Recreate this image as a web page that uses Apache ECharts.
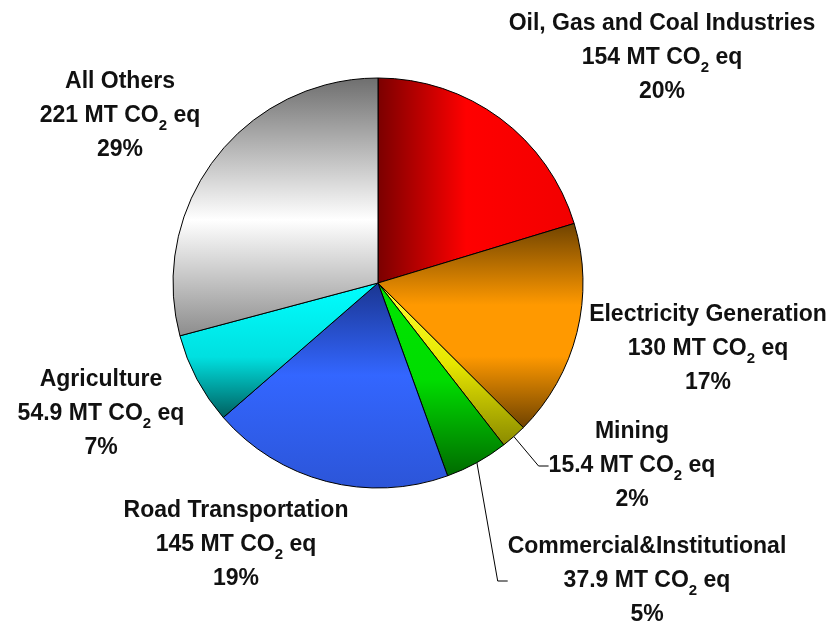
<!DOCTYPE html>
<html lang="en">
<head>
<meta charset="UTF-8">
<title>emissions by sector</title>
<script src="https://cdn.jsdelivr.net/npm/echarts@6/dist/echarts.min.js"></script>
<style>html,body{margin:0;padding:0;background:#fff;}</style>
</head>
<body>
<div id="main" style="width:836px;height:624px;"></div>
<script>
// sectors clockwise from 12 o'clock
var sectors = ['Oil, Gas and Coal Industries', 'Electricity Generation', 'Mining',
    'Commercial&Institutional', 'Road Transportation', 'Agriculture', 'All Others'];
var emissions = [154, 130, 15.4, 37.9, 145, 54.9, 221];   // MT CO2 eq
var withLeader = ['Mining', 'Commercial&Institutional'];

// label anchor (centre of text block), px
var labelPos = [[662, 58], [708, 349], [632, 466], [647, 581], [236, 545], [101, 414], [120, 116]];

// gradient fills per slice: [x, y, x2, y2, stops]
function grad(x, y, x2, y2, stops) {
    return {
        type: 'linear', x: x, y: y, x2: x2, y2: y2,
        colorStops: stops.map(function (s) { return { offset: s[0], color: s[1] }; })
    };
}
var fills = [
    grad(0, 0, 1, 0, [[0, '#7a0000'], [0.45, '#ff0000'], [1, '#f20000']]),
    grad(0, 0, 0, 1, [[0, '#6e4200'], [0.4, '#ff9900'], [0.65, '#ff9900'], [1, '#6e4200']]),
    grad(0, 0, 0, 1, [[0, '#ffff33'], [0.5, '#e6e600'], [1, '#8a8a00']]),
    grad(0, 0, 0, 1, [[0, '#00e600'], [0.5, '#00dd00'], [1, '#006a00']]),
    grad(0, 0, 0, 1, [[0, '#1a3590'], [0.45, '#3366ff'], [1, '#2c55d8']]),
    grad(0, 0, 0, 1, [[0, '#00ffff'], [0.55, '#00e0e0'], [1, '#005e5e']]),
    grad(0, 0, 0, 1, [[0, '#6e6e6e'], [0.55, '#ffffff'], [1, '#8c8c8c']])
];

var seriesData = sectors.map(function (name, i) {
    return {
        name: name,
        value: emissions[i],
        itemStyle: { color: fills[i] },
        labelLine: { show: withLeader.indexOf(name) >= 0 }
    };
});

var myChart = echarts.init(document.getElementById('main'));
var option = {
    backgroundColor: '#fff',
    animation: false,
    series: [{
        type: 'pie',
        center: [378, 283],
        radius: 205,
        startAngle: 90,
        clockwise: true,
        avoidLabelOverlap: false,
        itemStyle: { borderColor: '#000', borderWidth: 1 },
        label: {
            show: true,
            position: 'outside',
            color: '#111',
            fontFamily: 'Liberation Sans, Arial, sans-serif',
            fontWeight: 'bold',
            formatter: function (p) {
                return '{b|' + p.name + '}\n{b|' + p.value + ' MT CO}{s|2}{b| eq}\n{b|' + Math.round(p.percent) + '%}';
            },
            rich: {
                b: { fontSize: 23, lineHeight: 34, fontWeight: 'bold', color: '#111', align: 'center',
                     fontFamily: 'Liberation Sans, Arial, sans-serif' },
                s: { fontSize: 15, lineHeight: 18, verticalAlign: 'bottom', fontWeight: 'bold', color: '#111',
                     align: 'center', fontFamily: 'Liberation Sans, Arial, sans-serif' }
            }
        },
        labelLine: {
            show: false,
            length: 10,
            length2: 10,
            lineStyle: { color: '#000', width: 1 }
        },
        labelLayout: function (params) {
            var p = labelPos[params.dataIndex];
            return { x: p[0], y: p[1], align: 'center', verticalAlign: 'middle' };
        },
        emphasis: { disabled: true },
        data: seriesData
    }]
};
myChart.setOption(option);
</script>
</body>
</html>
